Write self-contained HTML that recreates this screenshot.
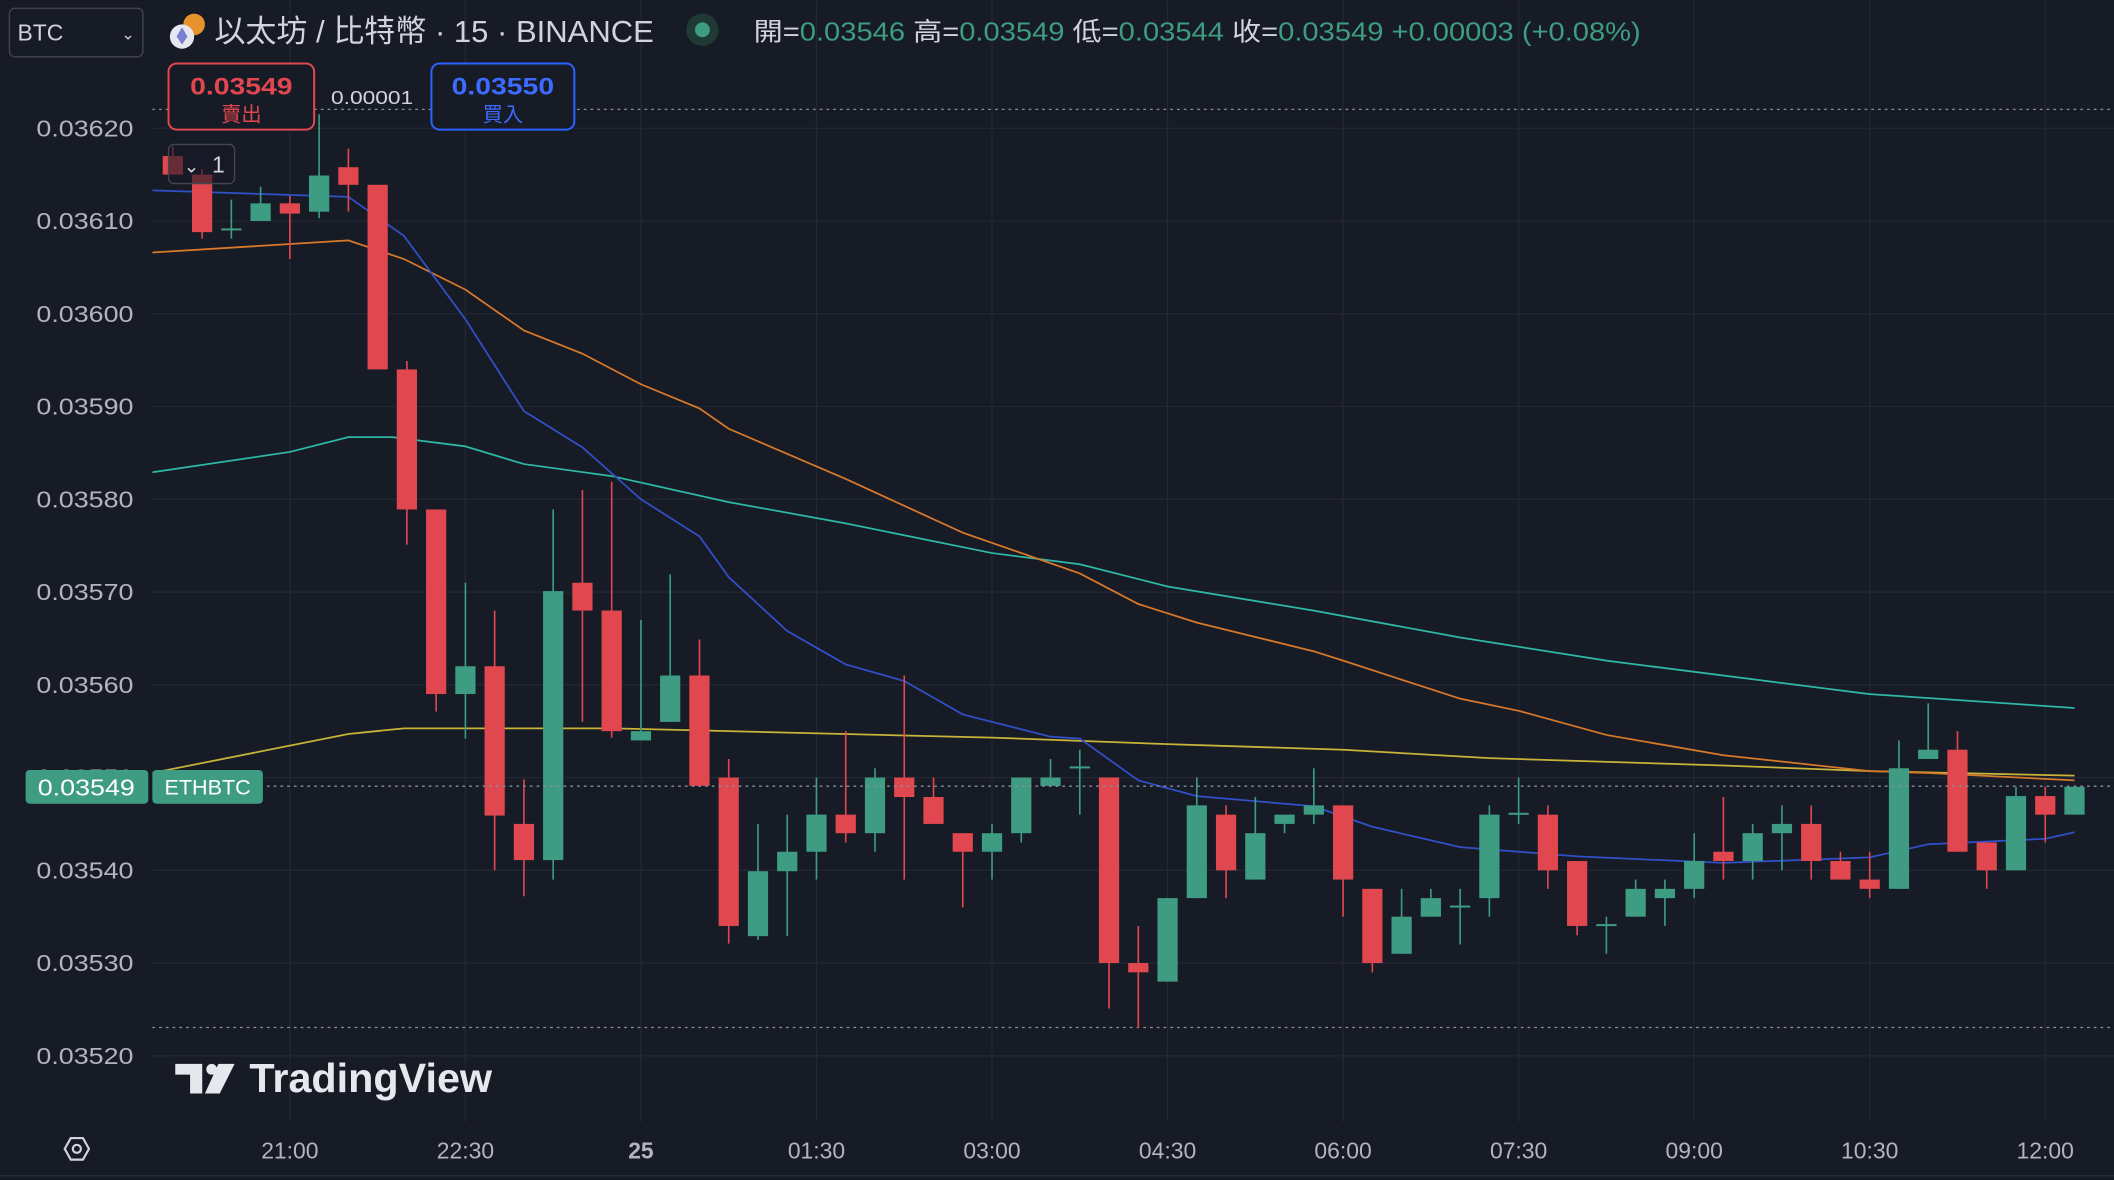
<!DOCTYPE html>
<html><head><meta charset="utf-8">
<style>
html,body{margin:0;padding:0;background:#171b26;overflow:hidden}
svg{display:block}
text{font-family:"Liberation Sans","Noto Sans CJK TC",sans-serif}
</style></head>
<body>
<svg id="chart" width="2114" height="1180" viewBox="0 0 1568 875" xmlns="http://www.w3.org/2000/svg">
<rect x="0" y="0" width="1568" height="875" fill="#171b26"/>
<g id="grid"></g>
<g id="yaxis"></g>
<g id="xaxis"></g>
<line x1="113" x2="1568" y1="81" y2="81" stroke="#8a8e99" stroke-dasharray="2,3" stroke-width="1"/>
<line x1="113" x2="1568" y1="762" y2="762" stroke="#8a8e99" stroke-dasharray="2,3" stroke-width="1"/>
<g id="lines"></g>
<g id="candles"></g>

<!-- header -->
<rect x="7" y="6" width="99" height="36" rx="4" fill="#171b26" stroke="#434651"/>
<text x="13" y="30" fill="#d1d4dc" font-size="17">BTC</text>
<text x="90" y="29" fill="#d1d4dc" font-size="12">⌄</text>
<circle cx="144" cy="18" r="8" fill="#e8922b"/>
<circle cx="135" cy="27" r="9" fill="#e6e8f0"/>
<path d="M135 20 L139 27 L135 33 L131 27 Z" fill="#7a7fd6"/>
<text x="159" y="31" fill="#d1d4dc" font-size="23" textLength="326" lengthAdjust="spacingAndGlyphs">以太坊 / 比特幣 · 15 · BINANCE</text>
<circle cx="521" cy="22" r="12" fill="#1f3a34"/>
<circle cx="521" cy="22" r="5.5" fill="#3e9c82"/>
<text x="559" y="30" font-size="19" textLength="658" lengthAdjust="spacingAndGlyphs"><tspan fill="#d1d4dc">開=</tspan><tspan fill="#3e9c82">0.03546 </tspan><tspan fill="#d1d4dc">高=</tspan><tspan fill="#3e9c82">0.03549 </tspan><tspan fill="#d1d4dc">低=</tspan><tspan fill="#3e9c82">0.03544 </tspan><tspan fill="#d1d4dc">收=</tspan><tspan fill="#3e9c82">0.03549 +0.00003 (+0.08%)</tspan></text>

<rect x="125" y="47" width="108" height="49" rx="6" fill="#171b26" stroke="#e0474f" stroke-width="1.5"/>
<text x="179" y="70" text-anchor="middle" fill="#e0474f" font-size="18" font-weight="bold" textLength="76" lengthAdjust="spacingAndGlyphs">0.03549</text>
<text x="179" y="90" text-anchor="middle" fill="#e0474f" font-size="15">賣出</text>
<text x="276" y="77" text-anchor="middle" fill="#d1d4dc" font-size="14" textLength="61" lengthAdjust="spacingAndGlyphs">0.00001</text>
<rect x="320" y="47" width="106" height="49" rx="6" fill="#171b26" stroke="#2962ff" stroke-width="1.5"/>
<text x="373" y="70" text-anchor="middle" fill="#3d6bff" font-size="18" font-weight="bold" textLength="76" lengthAdjust="spacingAndGlyphs">0.03550</text>
<text x="373" y="90" text-anchor="middle" fill="#3d6bff" font-size="15">買入</text>

<rect x="125" y="107" width="49" height="29" rx="4" fill="rgba(23,27,38,0.6)" stroke="#434651"/>
<text x="142" y="128" text-anchor="middle" fill="#d1d4dc" font-size="14">⌄</text>
<text x="162" y="128" text-anchor="middle" fill="#d1d4dc" font-size="17">1</text>

<!-- current price -->
<line x1="113" x2="1568" y1="583" y2="583" stroke="#8a8e99" stroke-dasharray="2,3" stroke-width="1"/>
<rect x="19" y="571" width="91" height="25" rx="3" fill="#3e9c82"/>
<text x="64" y="590" text-anchor="middle" fill="#ffffff" font-size="17" textLength="72" lengthAdjust="spacingAndGlyphs">0.03549</text>
<rect x="113" y="571" width="82" height="25" rx="3" fill="#3e9c82"/>
<text x="154" y="589" text-anchor="middle" fill="#ffffff" font-size="16">ETHBTC</text>

<!-- logo -->
<g>
<path d="M130 789 H150 V811 H141 V797 H130 Z" fill="#e6e8ee"/>
<circle cx="157" cy="793" r="4" fill="#e6e8ee"/>
<path d="M162 789 H174 L163 811 H152 Z" fill="#e6e8ee"/>
<text x="185" y="810" fill="#e6e8ee" font-size="30" font-weight="bold" textLength="180" lengthAdjust="spacingAndGlyphs">TradingView</text>
</g>
<g>
<path d="M48 852 L52.5 844 L61.5 844 L66 852 L61.5 860 L52.5 860 Z" fill="none" stroke="#d1d4dc" stroke-width="1.6"/>
<circle cx="57" cy="852" r="3" fill="none" stroke="#d1d4dc" stroke-width="1.6"/>
</g>
</svg>
<script>
// ---- data (prices in units of 1e-5 BTC) ----
const priceTicks = [3620,3610,3600,3590,3580,3570,3560,3550,3540,3530,3520];
const timeLabels = ["21:00","22:30","25","01:30","03:00","04:30","06:00","07:30","09:00","10:30","12:00"];
const timeLabelIdx = [0,6,12,18,24,30,36,42,48,54,60];
const candleIdx = [];
for (let k=-4;k<=61;k++) candleIdx.push(k);
const opens = [3617,3615,3609,3610,3611.9,3611,3615.8,3613.9,3594,3578.9,3559,3562,3545,3541.1,3571,3568,3554,3556,3561,3550,3532.9,3539.9,3542,3546,3544,3550,3547.9,3544,3542,3544,3549.1,3551,3550,3530,3528,3537,3546,3539,3545,3546,3547,3538,3531,3535,3536,3537,3546,3546,3541,3534,3535,3537,3538,3542,3541,3544,3545,3541,3539,3538,3552,3553,3543,3540,3548,3546];
const highs = [3618,3615.6,3612.3,3613.7,3612.7,3621.5,3617.8,3613.9,3594.9,3578.9,3571,3568,3549.8,3578.9,3581,3581.9,3567,3571.9,3564.9,3552,3545,3546,3550,3555,3551,3561,3550,3544,3545,3550,3552,3553,3550,3534,3537,3550,3547,3547.9,3546,3551,3547,3538,3538,3538,3538,3547,3550,3547,3541,3535,3539,3539,3544,3547.9,3545,3547,3547,3542,3542,3554,3558,3555,3543,3549,3549,3549];
const lows = [3615,3608.1,3608.1,3610,3605.9,3610.3,3611,3594,3575.1,3557.1,3554.2,3540,3537.2,3539,3556,3554.3,3554,3556,3549.1,3532.1,3532.5,3532.9,3539,3543,3542,3539,3547.9,3536,3539,3543,3549.1,3546,3525.1,3523,3528,3537,3537,3539,3544,3545,3535,3529,3531,3535,3532,3535,3545,3538,3533,3531,3535,3534,3537,3539,3539,3540,3539,3539,3537,3538,3552,3542,3538,3540,3543,3546];
const closes = [3615,3608.8,3609.2,3611.9,3610.8,3614.9,3613.9,3594,3578.9,3559,3562,3545.9,3541.1,3570.1,3568,3555,3555,3561,3549.1,3534,3539.9,3542,3546,3544,3550,3547.9,3545,3542,3544,3550,3550,3551.2,3530,3529,3537,3547,3540,3544,3546,3547,3539,3530,3535,3537,3536.2,3546,3546.2,3540,3534,3534.2,3538,3538,3541,3541,3544,3545,3541,3539,3538,3551,3553,3542,3540,3548,3546,3549];
// moving averages: [candle index, price]
const maBlueIdx = [-4.7,2,3.9,6,8,10,12,14,15,17,19,21,23,26,27,29,31,35,37,40,44,49,54,56,60,61];
const maBlueVal = [3613.3,3612.6,3608.4,3599.4,3589.5,3585.6,3580,3576,3571.6,3565.8,3562.2,3560.4,3556.8,3554.4,3554.2,3549.7,3548,3546.9,3544.7,3542.5,3541.5,3540.8,3541.4,3542.8,3543.4,3544.1];
const maOrangeIdx = [-4.7,2,3.9,6,8,10,12,14,15,19,23,27,29,31,35,36,40,42,45,49,54,56,61];
const maOrangeVal = [3606.6,3607.9,3605.9,3602.6,3598.2,3595.7,3592.4,3589.8,3587.6,3582.2,3576.4,3572,3568.7,3566.7,3563.6,3562.6,3558.5,3557.2,3554.6,3552.4,3550.7,3550.5,3549.7];
const maTealIdx = [-4.7,0,2,3.5,6,8,11,15,19,24,27,30,35,40,45,50,54,61];
const maTealVal = [3582.9,3585.1,3586.7,3586.7,3585.7,3583.8,3582.5,3579.7,3577.4,3574.2,3573,3570.6,3568,3565.1,3562.6,3560.6,3559,3557.5];
const maYellowIdx = [-4.7,2,3.9,6,11,15,24,30,36,41,49,54,61];
const maYellowVal = [3550.5,3554.7,3555.3,3555.3,3555.3,3555,3554.3,3553.6,3553,3552.1,3551.3,3550.7,3550.2];

// ---- scales ----
const yTop=95, pTop=3620, pxPer=6.88;
function yS(p){return yTop+(pTop-p)*pxPer;}
function xS(i){return 215+i*21.7;}
const NS="http://www.w3.org/2000/svg";
function mk(tag,attrs,parent){const e=document.createElementNS(NS,tag);for(const k in attrs)e.setAttribute(k,attrs[k]);parent.appendChild(e);return e;}

const grid=document.getElementById('grid'), yax=document.getElementById('yaxis'), xax=document.getElementById('xaxis');
priceTicks.forEach(p=>{
  const l=mk('line',{x1:113,x2:1568,y1:yS(p),y2:yS(p),stroke:'#232733','stroke-width':1},grid);
  
  
  const t=mk('text',{x:99,y:yS(p)+6,'text-anchor':'end',fill:'#b2b5be','font-size':17,textLength:72,lengthAdjust:'spacingAndGlyphs'},yax);
  t.textContent='0.0'+p;
  
  
});
timeLabels.forEach((s,k)=>{
  const x=xS(timeLabelIdx[k]);
  const l=mk('line',{x1:x,x2:x,y1:0,y2:832,stroke:'#232733','stroke-width':1},grid);
  
  
  const t=mk('text',{x:x,y:859,'text-anchor':'middle',fill:'#b2b5be','font-size':17,'font-weight':s==='25'?'bold':'normal'},xax);
  t.textContent=s;
  
  
});
const bl=mk('line',{x1:0,x2:1568,y1:872,y2:872,stroke:'#2a2e39'},xax);



const defs=mk('defs',{},document.getElementById('chart'));
const cp=mk('clipPath',{id:'plot'},defs);
mk('rect',{x:113,y:0,width:1455,height:832},cp);

const lines=document.getElementById('lines');
lines.setAttribute('clip-path','url(#plot)');
function drawMA(idx,val,color,name){
  const d=idx.map((i,k)=>(k?'L':'M')+xS(i).toFixed(1)+' '+yS(val[k]).toFixed(1)).join(' ');
  const p=mk('path',{d:d,fill:'none',stroke:color,'stroke-width':1.3},lines);
  
  
}
drawMA(maTealIdx,maTealVal,'#2fb8a6','ma-teal');
drawMA(maYellowIdx,maYellowVal,'#c9b43a','ma-yellow');
drawMA(maOrangeIdx,maOrangeVal,'#d8792a','ma-orange');
drawMA(maBlueIdx,maBlueVal,'#3150c8','ma-blue');

const cg=document.getElementById('candles');
cg.setAttribute('clip-path','url(#plot)');
candleIdx.forEach((i,k)=>{
  const o=opens[k],c=closes[k],h=highs[k],l=lows[k];
  const up=c>=o, col=up?'#3e9c82':'#e0474f', x=xS(i);
  const g=mk('g',{},cg);
  
  
  mk('line',{x1:x,x2:x,y1:yS(h),y2:yS(l),stroke:col,'stroke-width':1.2},g);
  const top=yS(Math.max(o,c)), bot=yS(Math.min(o,c));
  mk('rect',{x:x-7.5,y:top,width:15,height:Math.max(1.5,bot-top),fill:col},g);
});
</script>
</body></html>
